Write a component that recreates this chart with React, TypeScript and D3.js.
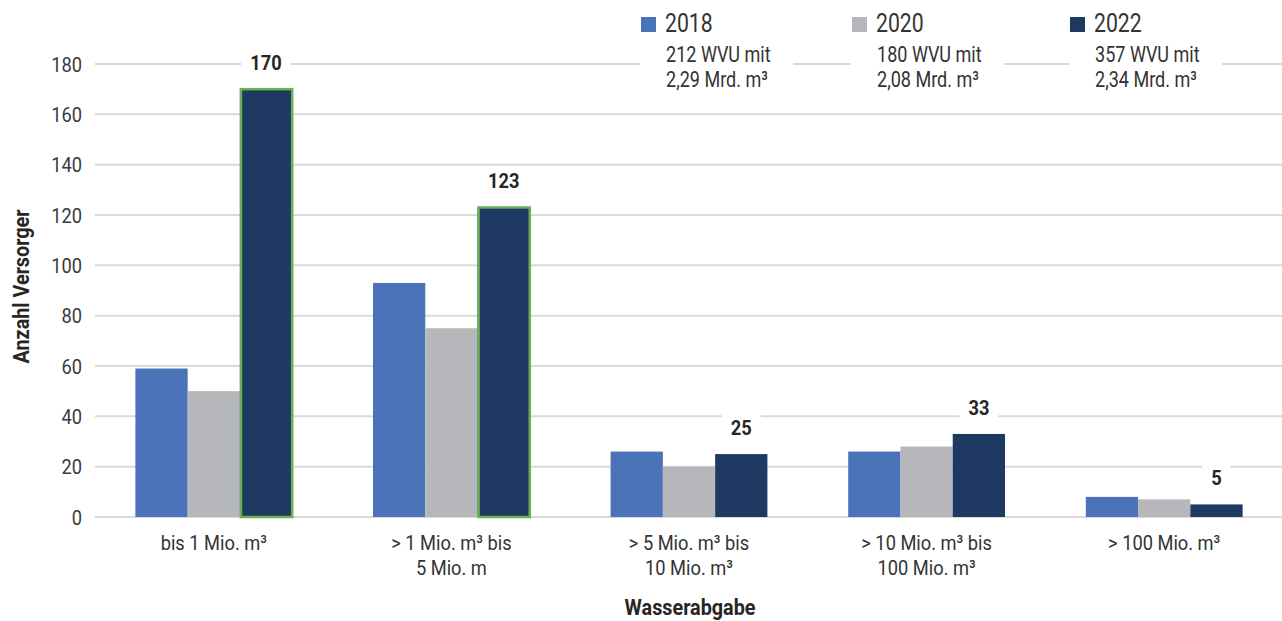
import React, { useEffect, useRef } from "react";
import * as d3 from "d3";

// Water supply companies by annual water output class
const categories = [
  "bis 1 Mio. m³",
  "> 1 Mio. m³ bis\n5 Mio. m",
  "> 5 Mio. m³ bis\n10 Mio. m³",
  "> 10 Mio. m³ bis\n100 Mio. m³",
  "> 100 Mio. m³",
];
const years = ["2018", "2020", "2022"];
const values2018 = [59, 93, 26, 26, 8];
const values2020 = [50, 75, 20, 28, 7];
const values2022 = [170, 123, 25, 33, 5];
const yearNotes = [
  ["212 WVU mit", "2,29 Mrd. m³"],
  ["180 WVU mit", "2,08 Mrd. m³"],
  ["357 WVU mit", "2,34 Mrd. m³"],
];
// 2022 bars highlighted with an outline
const highlighted2022 = [true, true, false, false, false];
const yTicks = [0, 20, 40, 60, 80, 100, 120, 140, 160, 180];

const W = 1282;
const H = 621;
const FONT = "Roboto, 'Noto Sans', sans-serif";
const SX = 0.87; // horizontal squeeze for a condensed look
const COLORS = ["#4a73b9", "#b6b7ba", "#1e3a63"];
const HIGHLIGHT = "#6cb155";
const GRID = "#d9d9d9";
const TEXT = "#333333";

type Sel = d3.Selection<any, unknown, null, undefined>;

function label(
  parent: Sel,
  x: number,
  y: number,
  txt: string,
  opts: {
    size: number;
    anchor?: string;
    bold?: boolean;
    fill?: string;
    rotate?: number;
    sx?: number;
  }
) {
  const sx = opts.sx ?? SX;
  const g = parent
    .append("g")
    .attr(
      "transform",
      `translate(${x},${y})${opts.rotate ? ` rotate(${opts.rotate})` : ""} scale(${sx},1)`
    );
  const t = g
    .append("text")
    .attr("text-anchor", opts.anchor || "start")
    .attr("font-family", FONT)
    .attr("font-size", opts.size)
    .attr("font-weight", opts.bold ? "bold" : "normal")
    .attr("fill", opts.fill || TEXT)
    .text(txt);
  return { g, t };
}

export default function App() {
  const ref = useRef<SVGSVGElement>(null);

  useEffect(() => {
    const svg = d3.select(ref.current) as unknown as Sel;
    svg.selectAll("*").remove();

    const left = 95;
    const right = 1283;
    const top = 64;
    const bottom = 517;

    const x = d3
      .scaleBand<string>()
      .domain(categories)
      .range([left, right])
      .paddingInner(0.34)
      .paddingOuter(0.17);
    const xi = d3.scaleBand<string>().domain(years).range([0, x.bandwidth()]);
    const y = d3.scaleLinear().domain([0, 180]).range([bottom, top]);

    const series = [values2018, values2020, values2022];

    // gridlines
    svg
      .append("g")
      .selectAll("line")
      .data(yTicks)
      .join("line")
      .attr("x1", left)
      .attr("x2", W)
      .attr("y1", (d) => y(d))
      .attr("y2", (d) => y(d))
      .attr("stroke", GRID)
      .attr("stroke-width", 2);

    // y tick labels
    const yt = svg.append("g");
    yTicks.forEach((d) => {
      label(yt, 82, y(d) + 7.5, String(d), { size: 21, anchor: "end", fill: "#3a3a3a" });
    });

    // bars
    series.forEach((vals, si) => {
      svg
        .append("g")
        .selectAll("rect")
        .data(vals)
        .join("rect")
        .attr("x", (_, i) => (x(categories[i]) as number) + (xi(years[si]) as number))
        .attr("y", (d) => y(d))
        .attr("width", xi.bandwidth())
        .attr("height", (d) => y(0) - y(d))
        .attr("fill", COLORS[si]);
    });

    // highlighted outlines on 2022 bars
    svg
      .append("g")
      .selectAll("rect")
      .data(values2022.map((v, i) => ({ v, i })).filter((d) => highlighted2022[d.i]))
      .join("rect")
      .attr("x", (d) => (x(categories[d.i]) as number) + (xi("2022") as number) + 1)
      .attr("y", (d) => y(d.v))
      .attr("width", xi.bandwidth() - 1)
      .attr("height", (d) => y(0) - y(d.v))
      .attr("fill", "none")
      .attr("stroke", HIGHLIGHT)
      .attr("stroke-width", 2.5);

    // value labels for 2022
    const lab = svg.append("g");
    values2022.forEach((v, i) => {
      const cx = (x(categories[i]) as number) + (xi("2022") as number) + xi.bandwidth() / 2;
      const by = y(v) - 19;
      const bg = lab.append("rect").attr("fill", "#ffffff");
      const { t } = label(lab, cx, by, String(v), {
        size: 21,
        anchor: "middle",
        bold: true,
        fill: "#262626",
      });
      const bb = (t.node() as SVGTextElement).getBBox();
      const w = bb.width * SX;
      bg.attr("x", cx - w / 2 - 9)
        .attr("y", by + bb.y - 3)
        .attr("width", w + 18)
        .attr("height", bb.height + 6);
    });

    // category labels
    const cat = svg.append("g");
    categories.forEach((c) => {
      const cx = (x(c) as number) + x.bandwidth() / 2;
      c.split("\n").forEach((line, li) => {
        label(cat, cx, 550 + li * 25, line, { size: 21, anchor: "middle" });
      });
    });

    // axis titles
    label(svg, 690, 615, "Wasserabgabe", {
      size: 22,
      anchor: "middle",
      bold: true,
      fill: "#262626",
      sx: 0.9,
    });
    label(svg, 29, (top + bottom) / 2 - 4, "Anzahl Versorger", {
      size: 22,
      anchor: "middle",
      bold: true,
      fill: "#262626",
      rotate: -90,
      sx: 0.9,
    });

    // legend with notes
    const legendX = [641, 852, 1070];
    const lg = svg.append("g");
    years.forEach((yr, i) => {
      const lx = legendX[i];
      lg.append("rect")
        .attr("x", lx - 1)
        .attr("y", 38)
        .attr("width", 153)
        .attr("height", 56)
        .attr("fill", "#ffffff");
      lg.append("rect")
        .attr("x", lx)
        .attr("y", 17)
        .attr("width", 15)
        .attr("height", 15)
        .attr("fill", COLORS[i]);
      label(lg, lx + 24, 32, yr, { size: 25, sx: 0.85 });
      yearNotes[i].forEach((line, li) => {
        label(lg, lx + 25, 62 + li * 25, line, { size: 22, sx: 0.82 });
      });
    });
  }, []);

  return (
    <svg
      ref={ref}
      width={W}
      height={H}
      style={{ position: "absolute", left: 0, top: 0, background: "#ffffff" }}
    />
  );
}
